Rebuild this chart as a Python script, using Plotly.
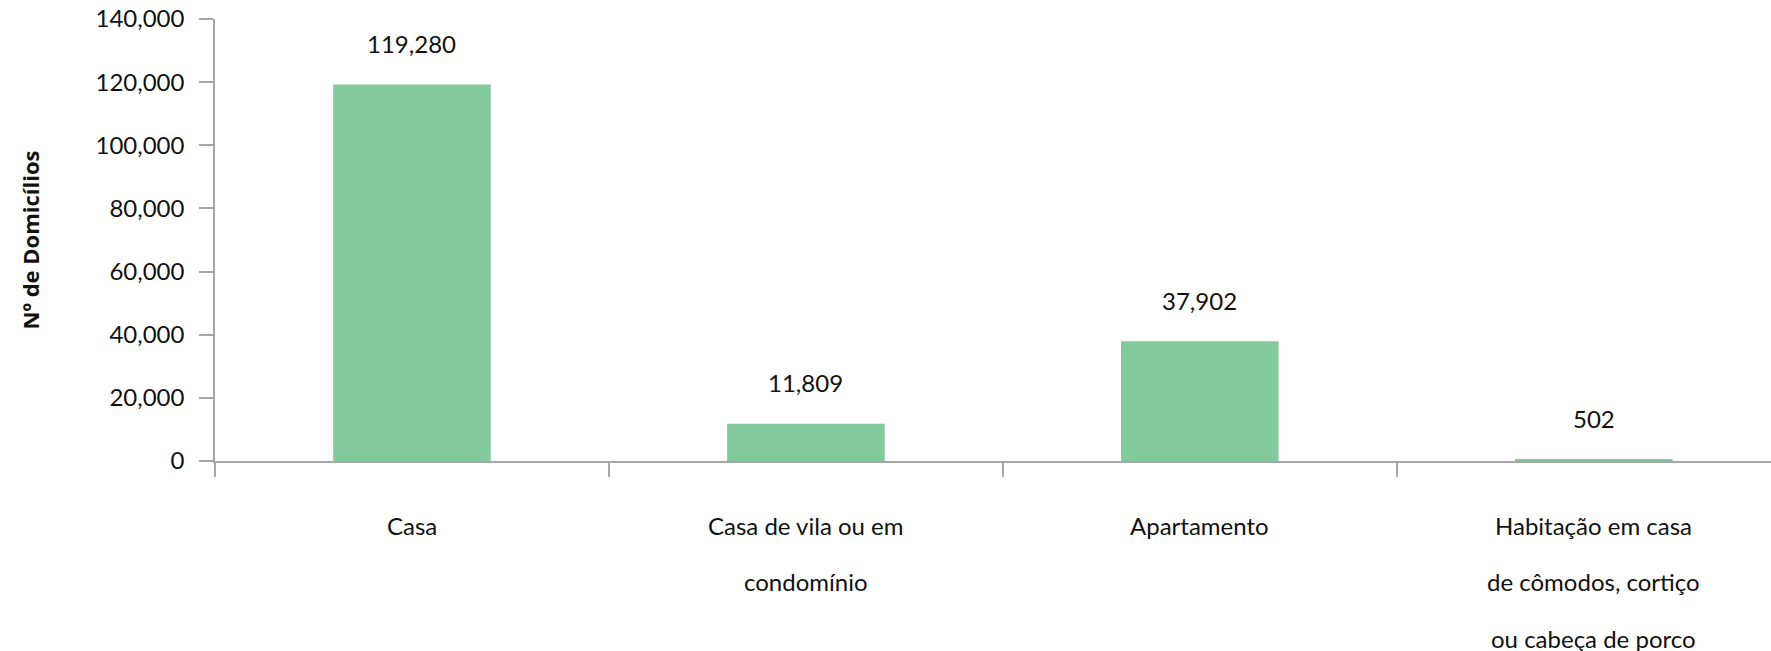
import plotly.graph_objects as go

categories = ["Casa", "Casa de vila ou em condomínio", "Apartamento",
              "Habitação em casa de cômodos, cortiço ou cabeça de porco"]
label_lines = [["Casa"],
               ["Casa de vila ou em", "condomínio"],
               ["Apartamento"],
               ["Habitação em casa", "de cômodos, cortiço", "ou cabeça de porco"]]
values = [119280, 11809, 37902, 502]
y_ticks = [0, 20000, 40000, 60000, 80000, 100000, 120000, 140000]

FONT = "Lato"
AXIS_COLOR = "#a6a6a6"
BAR_COLOR = "#82ca9c"
TEXT_COLOR = "#111111"

fig = go.Figure()
fig.add_trace(go.Bar(
    x=categories, y=values, width=0.4,
    marker=dict(color=BAR_COLOR, line=dict(width=0)),
    hoverinfo="x+y",
))

# value labels above bars
for c, v in zip(categories, values):
    fig.add_annotation(x=c, y=v, text=f"{v:,}", showarrow=False,
                       yshift=41, yanchor="middle",
                       font=dict(family=FONT, size=24, color=TEXT_COLOR))

# category labels (wide line spacing), anchored to the category positions
for c, lines in zip(categories, label_lines):
    for i, line in enumerate(lines):
        fig.add_annotation(x=c, y=0, text=line, showarrow=False,
                           yshift=-(64 + 56.5 * i), yanchor="middle",
                           font=dict(family=FONT, size=24, color=TEXT_COLOR))

fig.update_layout(
    width=1771, height=651,
    margin=dict(l=215, r=0, t=19, b=190, autoexpand=False),
    plot_bgcolor="white", paper_bgcolor="white",
    showlegend=False,
    font=dict(family=FONT, size=24, color=TEXT_COLOR),
)
fig.update_xaxes(
    type="category", automargin=False,
    range=[-0.5, 3.45],
    showline=True, linecolor=AXIS_COLOR, linewidth=1.5,
    ticks="outside", tickson="boundaries", ticklen=14, tickcolor=AXIS_COLOR, tickwidth=1.5,
    showticklabels=False,
    showgrid=False, zeroline=False,
)
fig.update_yaxes(
    automargin=False,
    range=[0, 140000], tickvals=y_ticks, tickformat=",d",
    showline=True, linecolor=AXIS_COLOR, linewidth=1.5,
    ticks="outside", ticklen=14, tickcolor=AXIS_COLOR, tickwidth=1.5,
    showgrid=False, zeroline=False,
    tickfont=dict(family=FONT, size=24, color=TEXT_COLOR),
    ticklabelstandoff=10, ticklabeloverflow="allow",
    title=dict(text="<b>Nº de Domicílios</b>", standoff=50,
               font=dict(family="Open Sans", size=22, color=TEXT_COLOR)),
)

# remove the default 8px page margin so the figure fills the window exactly
fig.write_html("out.html", config={"displayModeBar": False},
               post_script="document.body.style.margin='0';")
